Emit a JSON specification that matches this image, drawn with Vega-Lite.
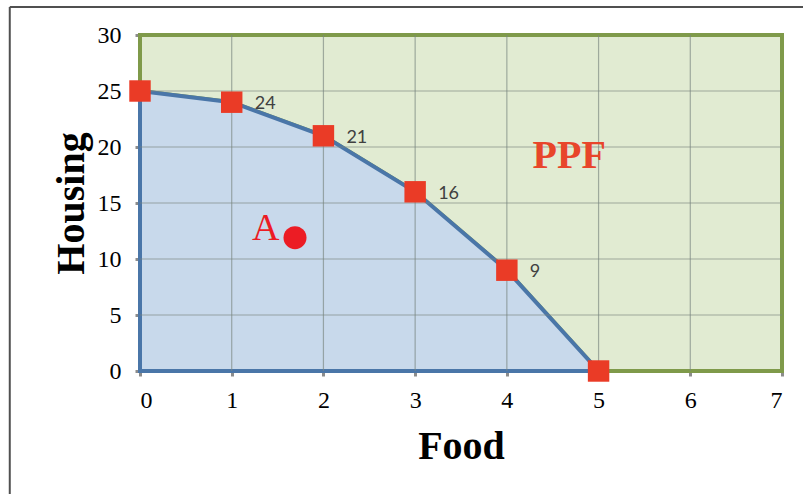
{
  "$schema": "https://vega.github.io/schema/vega-lite/v6.json",
  "width": 642,
  "height": 336,
  "autosize": {"type": "none"},
  "padding": {"left": 140, "top": 35, "right": 21, "bottom": 123},
  "background": "white",
  "config": {"view": {"stroke": null}},
  "datasets": {
    "ppf": [
      {"x": 0, "y": 25, "label": ""},
      {"x": 1, "y": 24, "label": "24"},
      {"x": 2, "y": 21, "label": "21"},
      {"x": 3, "y": 16, "label": "16"},
      {"x": 4, "y": 9, "label": "9"},
      {"x": 5, "y": 0, "label": ""}
    ],
    "bg": [{"x": 0, "x2": 7, "y": 0, "y2": 30}],
    "gx": [{"x": 1}, {"x": 2}, {"x": 3}, {"x": 4}, {"x": 5}, {"x": 6}],
    "gy": [{"y": 5}, {"y": 10}, {"y": 15}, {"y": 20}, {"y": 25}],
    "pointA": [{"x": 1.69, "y": 11.9}],
    "textA": [{"x": 1.22, "y": 12.7, "t": "A"}],
    "textPPF": [{"x": 4.28, "y": 19.2, "t": "PPF"}],
    "frame": [
      {"x": -1.42, "x2": 7.4, "y": 32.5, "y2": 32.5},
      {"x": -1.42, "x2": -1.42, "y": -12, "y2": 32.5}
    ]
  },
  "layer": [
    {
      "data": {"name": "bg"},
      "mark": {"type": "rect", "fill": "#E1EBD2", "stroke": "#7F9A4A", "strokeWidth": 4},
      "encoding": {
        "x": {
          "field": "x", "type": "quantitative",
          "scale": {"domain": [0, 7], "nice": false, "zero": false},
          "axis": {
            "values": [0, 1, 2, 3, 4, 5, 6, 7], "format": "d", "title": "Food", "grid": false, "domain": false,
            "labelFont": "Liberation Serif", "labelFontSize": 24, "labelColor": "#000",
            "tickColor": "#8c8c8c", "tickWidth": 3, "tickSize": 5, "labelPadding": 12,
            "titleFont": "Liberation Serif", "titleFontSize": 40, "titleFontWeight": "bold",
            "titleColor": "#000", "titlePadding": 14
          }
        },
        "y": {
          "field": "y", "type": "quantitative",
          "scale": {"domain": [0, 30], "nice": false, "zero": false},
          "axis": {
            "values": [0, 5, 10, 15, 20, 25, 30], "format": "d", "title": "Housing", "grid": false, "domain": false,
            "labelFont": "Liberation Serif", "labelFontSize": 24, "labelColor": "#000",
            "tickColor": "#8c8c8c", "tickWidth": 3, "tickSize": 5, "labelPadding": 14,
            "titleFont": "Liberation Serif", "titleFontSize": 40, "titleFontWeight": "bold",
            "titleColor": "#000", "titlePadding": 6
          }
        },
        "x2": {"field": "x2"},
        "y2": {"field": "y2"}
      }
    },
    {
      "data": {"name": "ppf"},
      "mark": {"type": "line", "stroke": "#7F9A4A", "strokeWidth": 4},
      "encoding": {
        "x": {"field": "x", "type": "quantitative"},
        "y": {"field": "y", "type": "quantitative"}
      }
    },
    {
      "data": {"name": "ppf"},
      "mark": {"type": "area", "fill": "#C8D9EB", "stroke": "#4A76A8", "strokeWidth": 4, "fillOpacity": 1},
      "encoding": {
        "x": {"field": "x", "type": "quantitative"},
        "y": {"field": "y", "type": "quantitative"}
      }
    },
    {
      "data": {"name": "gx"},
      "mark": {"type": "rule", "stroke": "#7a8580", "strokeWidth": 1.2, "opacity": 0.65},
      "encoding": {
        "x": {"field": "x", "type": "quantitative"}
      }
    },
    {
      "data": {"name": "gy"},
      "mark": {"type": "rule", "stroke": "#7a8580", "strokeWidth": 1.2, "opacity": 0.65},
      "encoding": {
        "y": {"field": "y", "type": "quantitative"}
      }
    },
    {
      "data": {"name": "ppf"},
      "mark": {"type": "point", "shape": "square", "filled": true, "size": 460, "color": "#EA3B26", "opacity": 1},
      "encoding": {
        "x": {"field": "x", "type": "quantitative"},
        "y": {"field": "y", "type": "quantitative"}
      }
    },
    {
      "data": {"name": "ppf"},
      "mark": {"type": "text", "align": "left", "baseline": "middle", "dx": 23, "dy": 2, "font": "Lato", "fontSize": 18, "color": "#404040"},
      "encoding": {
        "x": {"field": "x", "type": "quantitative"},
        "y": {"field": "y", "type": "quantitative"},
        "text": {"field": "label"}
      }
    },
    {
      "data": {"name": "pointA"},
      "mark": {"type": "circle", "size": 530, "color": "#EC1C24", "opacity": 1},
      "encoding": {
        "x": {"field": "x", "type": "quantitative"},
        "y": {"field": "y", "type": "quantitative"}
      }
    },
    {
      "data": {"name": "textA"},
      "mark": {"type": "text", "align": "left", "baseline": "middle", "font": "Liberation Serif", "fontSize": 38, "color": "#EC1C24"},
      "encoding": {
        "x": {"field": "x", "type": "quantitative"},
        "y": {"field": "y", "type": "quantitative"},
        "text": {"field": "t"}
      }
    },
    {
      "data": {"name": "textPPF"},
      "mark": {"type": "text", "align": "left", "baseline": "middle", "font": "Liberation Serif", "fontWeight": "bold", "fontSize": 40, "color": "#E8452A"},
      "encoding": {
        "x": {"field": "x", "type": "quantitative"},
        "y": {"field": "y", "type": "quantitative"},
        "text": {"field": "t"}
      }
    },
    {
      "data": {"name": "frame"},
      "mark": {"type": "rule", "stroke": "#505050", "strokeWidth": 2},
      "encoding": {
        "x": {"field": "x", "type": "quantitative"},
        "y": {"field": "y", "type": "quantitative"},
        "x2": {"field": "x2"},
        "y2": {"field": "y2"}
      }
    }
  ]
}
